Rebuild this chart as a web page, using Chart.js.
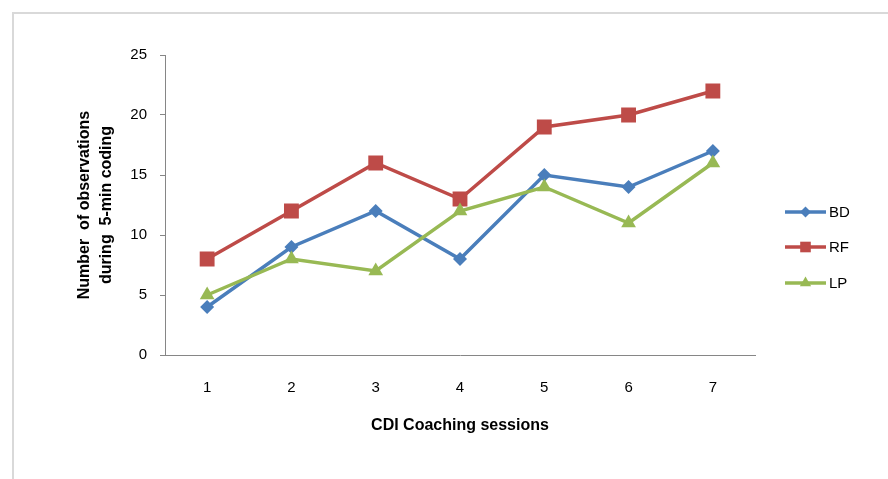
<!DOCTYPE html>
<html>
<head>
<meta charset="utf-8">
<script src="https://cdn.jsdelivr.net/npm/chart.js@4/dist/chart.umd.min.js"></script>
<style>
  html, body { margin: 0; padding: 0; background: #fff; }
  #wrap { position: relative; width: 888px; height: 479px; overflow: hidden; }
  #frame { position: absolute; left: 12px; top: 12px; width: 900px; height: 500px;
           border-top: 2px solid #d9d9d9; border-left: 2px solid #d9d9d9; }
  canvas { position: absolute; left: 0; top: 0; }
</style>
</head>
<body>
<div id="wrap">
  <div id="frame"></div>
  <canvas id="obsChart" width="888" height="479"></canvas>
</div>
<script>
const sessions = ['1', '2', '3', '4', '5', '6', '7'];
const bd = [4, 9, 12, 8, 15, 14, 17];
const rf = [8, 12, 16, 13, 19, 20, 22];
const lp = [5, 8, 7, 12, 14, 11, 16];

const FONT = '"Liberation Sans", Arial, sans-serif';
const AXIS = '#868686';

const series = [
  { label: 'BD', data: bd, color: '#4a7ebb', style: 'rectRot', radius: 7,  legendRadius: 5.5, order: 2 },
  { label: 'RF', data: rf, color: '#be4b48', style: 'rect',    radius: 10.5, legendRadius: 7.5, order: 1 },
  { label: 'LP', data: lp, color: '#98b954', style: 'triangle', radius: 8.5, legendRadius: 6.5, order: 0 }
];

// legend at the right: short line with the series marker in the middle
const sideLegend = {
  id: 'sideLegend',
  afterDraw(chart) {
    const ctx = chart.ctx;
    const rows = [212, 247, 283];
    ctx.save();
    series.forEach((s, i) => {
      const y = rows[i];
      ctx.strokeStyle = s.color;
      ctx.fillStyle = s.color;
      ctx.lineWidth = 3.5;
      ctx.beginPath();
      ctx.moveTo(785, y);
      ctx.lineTo(826, y);
      ctx.stroke();
      Chart.helpers.drawPoint(ctx, { pointStyle: s.style, radius: s.legendRadius, rotation: 0, borderWidth: 0 }, 805.5, y);
      ctx.fillStyle = '#000';
      ctx.font = '15px ' + FONT;
      ctx.textBaseline = 'middle';
      ctx.textAlign = 'left';
      ctx.fillText(s.label, 829, y + 1);
    });
    ctx.restore();
  }
};

new Chart(document.getElementById('obsChart'), {
  type: 'line',
  data: {
    labels: sessions,
    datasets: series.map(s => ({
      label: s.label,
      data: s.data,
      order: s.order,
      borderColor: s.color,
      backgroundColor: s.color,
      borderWidth: 3.5,
      pointStyle: s.style,
      pointRadius: s.radius,
      pointHoverRadius: s.radius,
      pointBorderWidth: 0,
      tension: 0,
      fill: false
    }))
  },
  options: {
    responsive: false,
    animation: false,
    events: [],
    layout: { padding: { left: 0, top: 55, right: 133, bottom: 0 } },
    plugins: { legend: { display: false }, tooltip: { enabled: false } },
    scales: {
      x: {
        offset: true,
        afterFit(scale) { scale.height = 124; },
        grid: { display: false, drawTicks: false },
        border: { display: true, color: AXIS, width: 1 },
        ticks: { color: '#000', padding: 24, font: { family: FONT, size: 15 } },
        title: {
          display: true,
          text: 'CDI Coaching sessions',
          color: '#000',
          font: { family: FONT, size: 16, weight: 'bold' },
          padding: { top: 0, bottom: 44 }
        }
      },
      y: {
        min: 0,
        max: 25,
        afterFit(scale) { scale.width = 165; },
        ticks: { stepSize: 5, color: '#000', padding: 13, font: { family: FONT, size: 15 } },
        grid: { drawOnChartArea: false, drawTicks: true, tickLength: 5, color: AXIS },
        border: { display: true, color: AXIS, width: 1 },
        title: {
          display: true,
          text: ['Number  of observations', 'during  5-min coding'],
          color: '#000',
          font: { family: FONT, size: 16, weight: 'bold', lineHeight: 1.375 },
          padding: { top: 74, bottom: 0 }
        }
      }
    }
  },
  plugins: [sideLegend]
});
</script>
</body>
</html>
